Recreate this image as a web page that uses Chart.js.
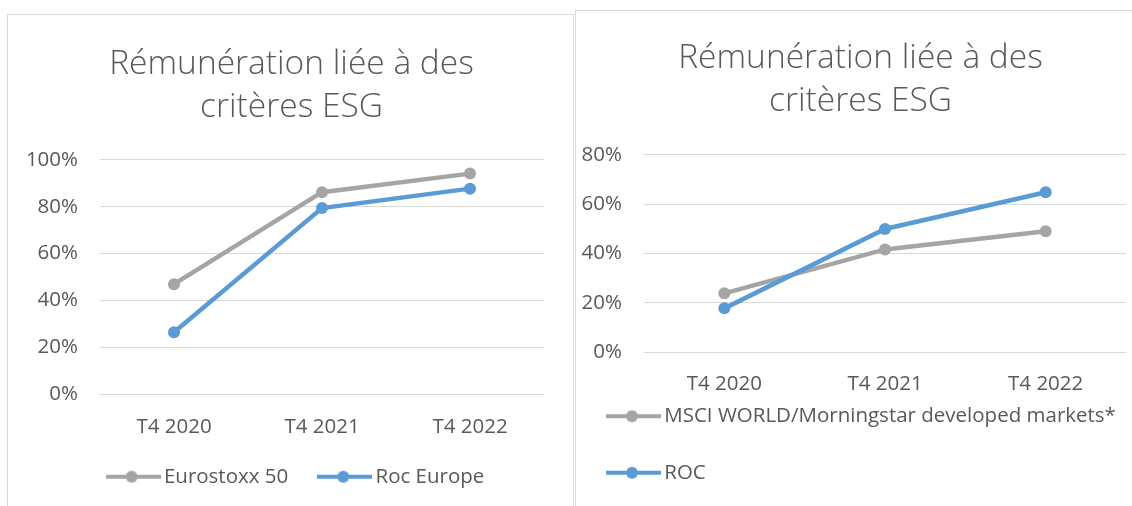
<!DOCTYPE html>
<html><head><meta charset="utf-8">
<script src="https://cdn.jsdelivr.net/npm/chart.js@4.4.1/dist/chart.umd.min.js"></script>
<style>
body{margin:0;background:#fff;width:1132px;height:506px;overflow:hidden;position:relative}
.panel{position:absolute;border:1.5px solid #d9d9d9;border-bottom:none;box-sizing:border-box}
.wrap{position:absolute}
</style></head><body>
<div class="panel" style="left:7px;top:14px;width:567px;height:500px"></div>
<div class="panel" style="left:575px;top:10px;width:570px;height:500px"></div>
<div class="wrap" style="left:9px;top:15px;width:564px;height:491px"><canvas id="c1"></canvas></div>
<div class="wrap" style="left:577px;top:11px;width:555px;height:495px"><canvas id="c2"></canvas></div>
<script>
const categories = ['T4 2020', 'T4 2021', 'T4 2022'];
const titleLines = ['Rémunération liée à des', 'critères ESG'];
const leftSeriesNames = ['Eurostoxx 50', 'Roc Europe'];
const eurostoxx50 = [47.0, 86.2, 94.1];
const rocEurope = [26.5, 79.4, 87.7];
const rightSeriesNames = ['MSCI WORLD/Morningstar developed markets*', 'ROC'];
const msciWorld = [23.8, 41.6, 49.0];
const roc = [17.7, 49.9, 64.8];
const leftYMax = 100;
const rightYMax = 80;
const yStep = 20;

const GRAY = '#A5A5A5', BLUE = '#5B9BD5', TXT = '#595959', GRID = '#d9d9d9';
const FONT = "'Open Sans', sans-serif";

function makeIcon(color) {
  const c = document.createElement('canvas');
  c.width = 55; c.height = 14;
  const x = c.getContext('2d');
  x.fillStyle = color;
  x.fillRect(0, 5, 55, 4);
  x.beginPath(); x.arc(26, 7, 6, 0, Math.PI * 2); x.fill();
  return c;
}

// let tick labels overflow their (fixed-size) scale boxes instead of being clipped
const noLabelClip = s => { s._computeLabelArea = () => undefined; };

function build(id, names, series, yMax, cfg) {
  const colors = [GRAY, BLUE];
  const icons = colors.map(makeIcon);
  return new Chart(document.getElementById(id), {
    type: 'line',
    data: {
      labels: categories,
      datasets: series.map((d, i) => ({
        label: names[i], data: d, order: i === 1 ? 0 : 1,
        borderColor: colors[i], backgroundColor: colors[i],
        pointBackgroundColor: colors[i], pointBorderWidth: 0,
        pointRadius: 6, pointHoverRadius: 6, borderWidth: 4.5, tension: 0
      }))
    },
    plugins: [{
      id: 'titleShift',
      afterLayout: chart => {
        if (chart.titleBlock) { chart.titleBlock.left += cfg.titleShift; chart.titleBlock.right += cfg.titleShift; }
      }
    }],
    options: {
      responsive: true, maintainAspectRatio: false, animation: false,
      layout: { padding: cfg.layoutPad },
      plugins: {
        tooltip: { enabled: false },
        title: {
          display: true, text: titleLines, color: TXT,
          font: { family: FONT, size: 33.5, weight: 300, lineHeight: 1.28 },
          padding: cfg.titlePad
        },
        legend: {
          position: 'bottom', align: cfg.legendAlign,
          labels: {
            color: TXT, font: { family: FONT, size: 20.5 },
            usePointStyle: true, pointStyleWidth: 41, padding: 36,
            sort: (a, b) => a.datasetIndex - b.datasetIndex,
            generateLabels: (chart) => {
              const items = Chart.defaults.plugins.legend.labels.generateLabels(chart);
              items.forEach(it => { it.pointStyle = icons[it.datasetIndex]; });
              return items;
            }
          }
        }
      },
      scales: {
        x: {
          offset: true,
          grid: { display: false }, border: { display: false },
          ticks: { color: TXT, font: { family: FONT, size: 20.5 }, padding: 12, maxRotation: 0 },
          afterFit: s => { s.height = cfg.xH; noLabelClip(s); }
        },
        y: {
          min: 0, max: yMax,
          grid: { color: GRID, lineWidth: 1, drawTicks: false }, border: { display: false },
          ticks: { stepSize: yStep, color: TXT, font: { family: FONT, size: 20.5 }, padding: 22, callback: v => v + '%' },
          afterFit: s => { s.width = cfg.yW; noLabelClip(s); }
        }
      }
    }
  });
}

build('c1', leftSeriesNames, [eurostoxx50, rocEurope], leftYMax, {
  layoutPad: { left: 44, right: 29, top: 0, bottom: 9 },
  titlePad: { top: 28, bottom: 31 },
  legendAlign: 'center', xH: 36, yW: 47, titleShift: -7
});
build('c2', rightSeriesNames, [msciWorld, roc], rightYMax, {
  layoutPad: { left: 0, right: 2, top: 0, bottom: 13 },
  titlePad: { top: 26, bottom: 32 },
  legendAlign: 'start', xH: 18, yW: 67, titleShift: 7
});
</script>
</body></html>
